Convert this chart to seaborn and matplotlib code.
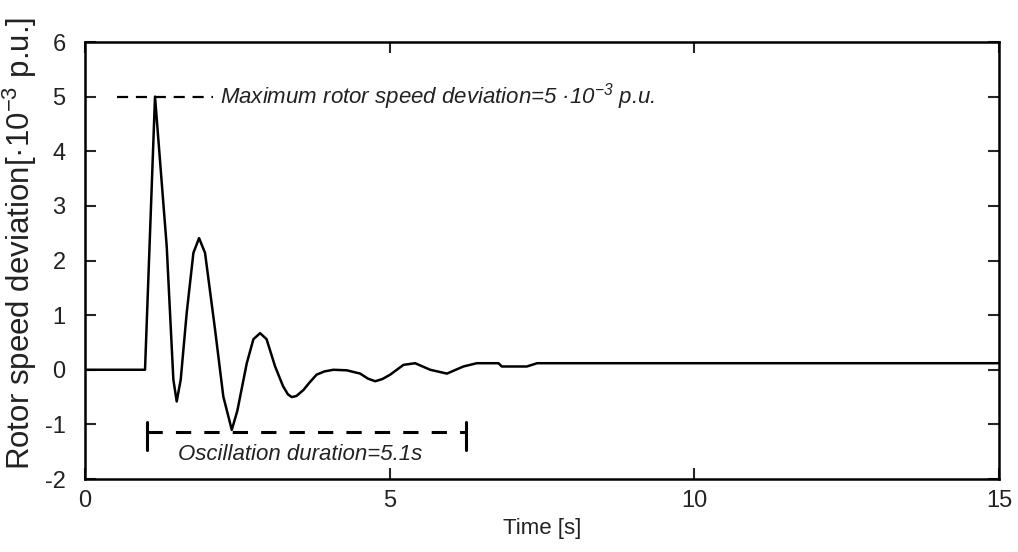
import matplotlib
matplotlib.use("Agg")
import matplotlib.pyplot as plt
import seaborn as sns

# rotor speed deviation (x 10^-3 p.u.)
time_s = [0.0, 0.985, 1.149, 1.341, 1.45, 1.505, 1.571, 1.669, 1.779, 1.872,
          1.970, 2.135, 2.27, 2.409, 2.50, 2.655, 2.764, 2.874, 2.98, 3.12,
          3.25, 3.33, 3.394, 3.47, 3.585, 3.68, 3.80, 3.93, 4.077, 4.297,
          4.516, 4.64, 4.762, 4.88, 5.008, 5.227, 5.419, 5.665, 5.94, 6.21,
          6.43, 6.787, 6.84, 7.25, 7.42, 15.0]
deviation = [0.0, 0.0, 5.0, 2.26, -0.18, -0.58, -0.18, 1.04, 2.14, 2.41,
             2.14, 0.73, -0.49, -1.10, -0.75, 0.12, 0.56, 0.67, 0.56, 0.06,
             -0.30, -0.45, -0.50, -0.48, -0.37, -0.24, -0.09, -0.03, 0.0, -0.01,
             -0.07, -0.16, -0.21, -0.17, -0.09, 0.09, 0.12, 0.0, -0.07, 0.06,
             0.12, 0.12, 0.06, 0.06, 0.12, 0.12]

# annotation values
max_dev = 5.0
max_line_x = [0.52, 2.1]
osc_start, osc_end = 1.01, 6.26
osc_level = -1.14
max_label = "Maximum rotor speed deviation=5 ·10$^{-3}$ p.u."
osc_label = "Oscillation duration=5.1s"

sns.set_style("ticks")
plt.rcParams["font.family"] = ["Liberation Sans", "DejaVu Sans"]
plt.rcParams["mathtext.default"] = "regular"
plt.rcParams["axes.unicode_minus"] = False

fig = plt.figure(figsize=(10.18, 5.52), dpi=100)
ax = fig.add_axes([0.0835, 0.1322, 0.8978, 0.7917])

sns.lineplot(x=time_s, y=deviation, ax=ax, color="black", linewidth=1.8,
             sort=False, estimator=None)

# maximum deviation marker
ax.plot(max_line_x, [max_dev, max_dev], color="black", linewidth=1.6,
        linestyle=(0, (5, 3.5)))
ax.text(2.22, max_dev, max_label, fontsize=16, fontstyle="italic",
        color="#222222", va="center", ha="left")

# oscillation duration bracket
ax.plot([osc_start, osc_end], [osc_level, osc_level], color="black",
        linewidth=2.2, linestyle=(0, (5, 4.3)))
for xb in (osc_start, osc_end):
    ax.plot([xb, xb], [-0.95, -1.47], color="black", linewidth=2.2)
ax.text(1.53, -1.56, osc_label, fontsize=16, fontstyle="italic",
        color="#222222", va="center", ha="left")

ax.set_xlim(0, 15)
ax.set_ylim(-2, 6)
ax.set_xticks([0, 5, 10, 15])
ax.set_yticks(range(-2, 7))

for s in ax.spines.values():
    s.set_linewidth(1.8)
    s.set_color("black")

ax.tick_params(direction="in", length=8, width=1.5, top=True, right=True,
               labelsize=17, labelcolor="#222222")
ax.tick_params(axis="x", pad=8)
ax.tick_params(axis="y", pad=14)

ax.set_xlabel("Time [s]", fontsize=16, color="#222222")
ax.set_ylabel("Rotor speed deviation[·10$^{-3}$ p.u.]", fontsize=22.5,
              color="#222222")
ax.xaxis.set_label_coords(0.5, -0.09)
ax.yaxis.set_label_coords(-0.05, 0.54)

fig.savefig("out.png", dpi=100)
